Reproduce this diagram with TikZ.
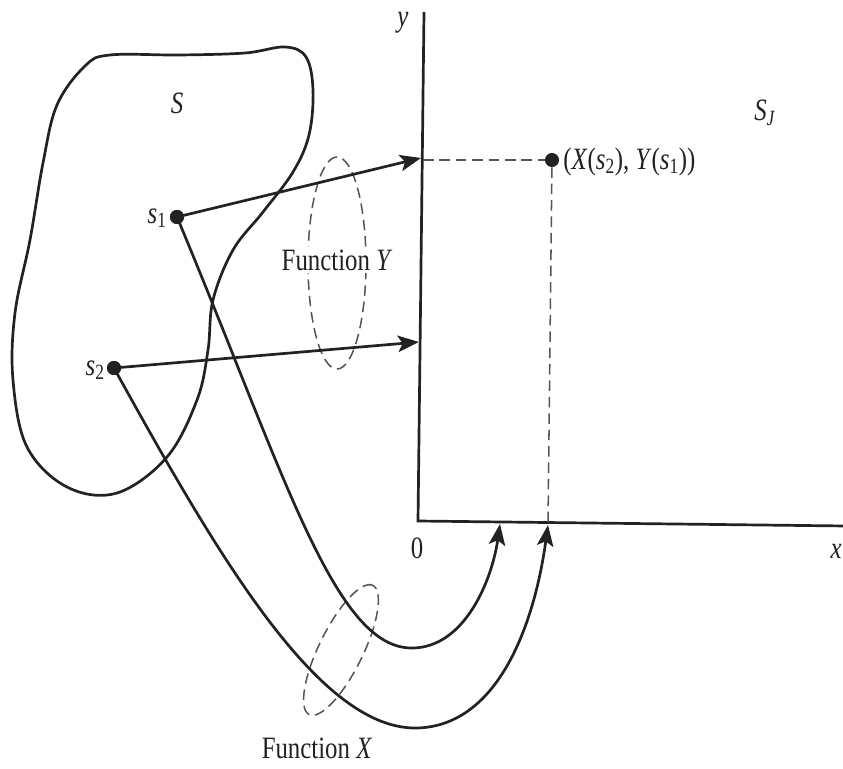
\documentclass[tikz,border=0pt]{standalone}
\usepackage{fontspec}
\setmainfont{Liberation Serif}
\newfontfamily\figfont[FakeStretch=0.8]{Liberation Serif}
\usetikzlibrary{arrows.meta}
\definecolor{ink}{HTML}{222222}
\definecolor{guide}{HTML}{555555}
\newcommand{\sbx}[1]{\textsubscript{#1}}
\begin{document}
\begin{tikzpicture}[x=0.03cm,y=-0.03cm,
  main/.style={draw=ink, line width=2.3pt},
  arr/.style={main, -{Stealth[length=18pt,width=14pt,inset=4pt]}},
  guide/.style={draw=guide, line width=1.3pt, dash pattern=on 9pt off 5pt},
  dot/.style={circle, fill=ink, inner sep=0pt, minimum size=12pt},
  lbl/.style={font={\figfont\fontsize{26.5}{31}\selectfont}, text=ink, inner sep=1pt}]
\useasboundingbox (0,0) rectangle (843,769);

% set S
\draw[main] plot[smooth cycle, tension=0.6] coordinates {
  (110,55) (180,55) (245,53) (285,47) (306,57) (313,90) (309,135) (293,172) (263,212)
  (233,250) (213,300) (208,350) (197,400) (167,457) (117,493)
  (67,487) (27,447) (13,380) (15,313) (30,240) (43,163) (57,105) (85,66)};

% axes
\coordinate (ytop) at (424,12);
\coordinate (O) at (418,521);
\coordinate (xend) at (846,526);
\draw[main] (ytop) -- (O) -- (xend);

% points
\node[dot] (s1) at (177,217) {};
\node[dot] (s2) at (114,368) {};
\node[dot] (p) at (552,160) {};

\coordinate (ya1) at (421,158);
\coordinate (ya2) at (419,342);
\coordinate (xa1) at (500,524);
\coordinate (xa2) at (548,525);
\coordinate (yd) at (423,160);

% guides
\draw[guide] (yd) -- (p);
\draw[guide] (p) -- (xa2);
\draw[guide] (337,263) ellipse [x radius=0.87cm, y radius=3.18cm];
\draw[guide, rotate around={63.8:(341,650)}] (341,650) ellipse [x radius=2.16cm, y radius=0.66cm];

% function Y
\draw[arr] (s1.center) -- (ya1);
\draw[arr] (s2.center) -- (ya2);

% function X
\draw[arr] (s1.center) .. controls (285,475) and (335,650) .. (413,648)
  .. controls (465,647) and (492,580) .. (xa1);
\draw[arr] (s2.center) .. controls (220,560) and (320,730) .. (417,728)
  .. controls (500,726) and (535,620) .. (xa2);

\node[dot] at (s1) {};
\node[dot] at (s2) {};

% labels
\node[lbl] (lS) at (177,103) {\textit{S}};
\node[lbl] (lSJ) at (765,113) {\textit{S}\sbx{\textit{J}}};
\node[lbl] (ly) at (403,23) {\textit{y}};
\node[lbl] (l0) at (417,548) {0};
\node[lbl] (lx) at (836,551) {\textit{x}};
\node[lbl, anchor=east] (ls1) at (168,218) {\textit{s}\sbx{1}};
\node[lbl, anchor=east] (ls2) at (106,370) {\textit{s}\sbx{2}};
\node[lbl, anchor=west] (lp) at (562,162) {(\textit{X}(\textit{s}\sbx{2}), \textit{Y}(\textit{s}\sbx{1}))};
\node[lbl, fill=white, inner sep=2pt] (lfy) at (337,260) {Function \textit{Y}};
\node[lbl] (lfx) at (317,748) {Function \textit{X}};
\end{tikzpicture}
\end{document}
